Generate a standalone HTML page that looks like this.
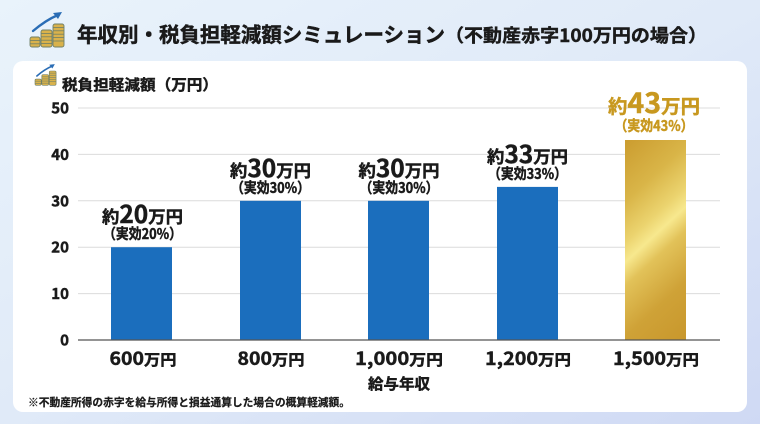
<!DOCTYPE html>
<html><head><meta charset="utf-8">
<style>
html,body{margin:0;padding:0;width:760px;height:424px;overflow:hidden;}
svg{display:block;}
text{font-family:"Noto Sans CJK JP","Liberation Sans",sans-serif;font-weight:700;}
.dk{stroke:#1a1a1a;stroke-width:0.45px;}
.gd{stroke:#c8981f;stroke-width:0.45px;}
</style></head>
<body>
<svg width="760" height="424" viewBox="0 0 760 424" xmlns="http://www.w3.org/2000/svg">
<defs>
<linearGradient id="bg" x1="0" y1="0" x2="1" y2="1">
<stop offset="0" stop-color="#e9f3fb"/>
<stop offset="0.5" stop-color="#e0eaf8"/>
<stop offset="1" stop-color="#cfd9f4"/>
</linearGradient>
<linearGradient id="gold" gradientUnits="userSpaceOnUse" x1="571" y1="143.5" x2="739" y2="326.5">
<stop offset="0" stop-color="#c99a2c"/>
<stop offset="0.15" stop-color="#cc9e31"/>
<stop offset="0.32" stop-color="#d9b548"/>
<stop offset="0.44" stop-color="#ebd36e"/>
<stop offset="0.5" stop-color="#f7e88e"/>
<stop offset="0.57" stop-color="#e2c259"/>
<stop offset="0.72" stop-color="#cfa237"/>
<stop offset="0.9" stop-color="#c8972c"/>
<stop offset="1" stop-color="#c8972c"/>
</linearGradient>
</defs>
<rect width="760" height="424" fill="url(#bg)"/>

<!-- big icon -->
<g>
<g transform="translate(30,37)">
<rect x="0" y="0" width="10" height="10" rx="2" fill="#d9b24b" stroke="#6f7f66" stroke-width="0.9"/>
<line x1="0" y1="3.4" x2="10" y2="3.4" stroke="#6f7f66" stroke-width="0.8"/>
<line x1="0" y1="6.8" x2="10" y2="6.8" stroke="#6f7f66" stroke-width="0.8"/>
</g>
<g transform="translate(41,30)">
<rect x="0" y="0" width="11" height="17" rx="2" fill="#d9b24b" stroke="#6f7f66" stroke-width="0.9"/>
<line x1="0" y1="3.4" x2="11" y2="3.4" stroke="#6f7f66" stroke-width="0.8"/>
<line x1="0" y1="6.8" x2="11" y2="6.8" stroke="#6f7f66" stroke-width="0.8"/>
<line x1="0" y1="10.2" x2="11" y2="10.2" stroke="#6f7f66" stroke-width="0.8"/>
<line x1="0" y1="13.6" x2="11" y2="13.6" stroke="#6f7f66" stroke-width="0.8"/>
</g>
<g transform="translate(53,24)">
<rect x="0" y="0" width="11" height="23" rx="2" fill="#d9b24b" stroke="#6f7f66" stroke-width="0.9"/>
<line x1="0" y1="3.4" x2="11" y2="3.4" stroke="#6f7f66" stroke-width="0.8"/>
<line x1="0" y1="6.8" x2="11" y2="6.8" stroke="#6f7f66" stroke-width="0.8"/>
<line x1="0" y1="10.2" x2="11" y2="10.2" stroke="#6f7f66" stroke-width="0.8"/>
<line x1="0" y1="13.6" x2="11" y2="13.6" stroke="#6f7f66" stroke-width="0.8"/>
<line x1="0" y1="17" x2="11" y2="17" stroke="#6f7f66" stroke-width="0.8"/>
</g>
<path d="M33 31 Q46 20 58 15" fill="none" stroke="#2a6db5" stroke-width="2.4" stroke-linecap="round"/>
<path d="M62 12 L53 13 L58 19 Z" fill="#2a6db5"/>
</g>

<text class="dk" x="77" y="42" font-size="20.5" fill="#1a1a1a" textLength="368" lengthAdjust="spacingAndGlyphs">年収別・税負担軽減額シミュレーション</text>
<text class="dk" x="445" y="42" font-size="18" fill="#1a1a1a" textLength="262" lengthAdjust="spacingAndGlyphs">（不動産赤字100万円の場合）</text>

<!-- card -->
<rect x="13" y="61" width="734" height="351" rx="10" fill="#ffffff"/>

<!-- small icon -->
<g transform="translate(35,71) scale(0.62)">
<g transform="translate(0,13)">
<rect x="0" y="0" width="10" height="10" rx="2" fill="#d9b24b" stroke="#6f7f66" stroke-width="1"/>
<line x1="0" y1="3.4" x2="10" y2="3.4" stroke="#6f7f66" stroke-width="0.9"/>
<line x1="0" y1="6.8" x2="10" y2="6.8" stroke="#6f7f66" stroke-width="0.9"/>
</g>
<g transform="translate(11,6)">
<rect x="0" y="0" width="11" height="17" rx="2" fill="#d9b24b" stroke="#6f7f66" stroke-width="1"/>
<line x1="0" y1="3.4" x2="11" y2="3.4" stroke="#6f7f66" stroke-width="0.9"/>
<line x1="0" y1="6.8" x2="11" y2="6.8" stroke="#6f7f66" stroke-width="0.9"/>
<line x1="0" y1="10.2" x2="11" y2="10.2" stroke="#6f7f66" stroke-width="0.9"/>
<line x1="0" y1="13.6" x2="11" y2="13.6" stroke="#6f7f66" stroke-width="0.9"/>
</g>
<g transform="translate(23,0)">
<rect x="0" y="0" width="11" height="23" rx="2" fill="#d9b24b" stroke="#6f7f66" stroke-width="1"/>
<line x1="0" y1="3.4" x2="11" y2="3.4" stroke="#6f7f66" stroke-width="0.9"/>
<line x1="0" y1="6.8" x2="11" y2="6.8" stroke="#6f7f66" stroke-width="0.9"/>
<line x1="0" y1="10.2" x2="11" y2="10.2" stroke="#6f7f66" stroke-width="0.9"/>
<line x1="0" y1="13.6" x2="11" y2="13.6" stroke="#6f7f66" stroke-width="0.9"/>
<line x1="0" y1="17" x2="11" y2="17" stroke="#6f7f66" stroke-width="0.9"/>
</g>
<path d="M3 8 Q16 -3 28 -8" fill="none" stroke="#2a6db5" stroke-width="2.6" stroke-linecap="round"/>
<path d="M32 -11 L23 -10 L28 -4 Z" fill="#2a6db5"/>
</g>
<text class="dk" x="62" y="90" font-size="15" fill="#1a1a1a" textLength="156" lengthAdjust="spacingAndGlyphs">税負担軽減額（万円）</text>

<!-- grid -->
<g stroke="#dcdcdc" stroke-width="1">
<line x1="78" y1="108" x2="720" y2="108"/>
<line x1="78" y1="154.4" x2="720" y2="154.4"/>
<line x1="78" y1="200.8" x2="720" y2="200.8"/>
<line x1="78" y1="247.2" x2="720" y2="247.2"/>
<line x1="78" y1="293.6" x2="720" y2="293.6"/>
</g>
<g class="dk" font-size="15" fill="#1a1a1a" text-anchor="end">
<text x="69" y="113.5">50</text>
<text x="69" y="159.9">40</text>
<text x="69" y="206.3">30</text>
<text x="69" y="252.7">20</text>
<text x="69" y="299.1">10</text>
<text x="69" y="345.5">0</text>
</g>

<!-- bars -->
<rect x="111" y="247.2" width="61" height="92.8" fill="#1b6ebd"/>
<rect x="240" y="200.8" width="61" height="139.2" fill="#1b6ebd"/>
<rect x="368" y="200.8" width="61" height="139.2" fill="#1b6ebd"/>
<rect x="497" y="186.9" width="61" height="153.1" fill="#1b6ebd"/>
<rect x="625" y="140" width="61" height="200" fill="url(#gold)"/>

<line x1="78" y1="340" x2="720" y2="340" stroke="#555" stroke-width="1.3"/>

<!-- bar labels -->
<g class="dk" fill="#1a1a1a" text-anchor="middle">
<text x="142.5" y="223" textLength="81" lengthAdjust="spacingAndGlyphs"><tspan font-size="17">約</tspan><tspan font-size="24">20</tspan><tspan font-size="17">万円</tspan></text>
<text x="142.5" y="239" font-size="14.5" textLength="79" lengthAdjust="spacingAndGlyphs">（実効20%）</text>
<text x="270.5" y="177" textLength="81" lengthAdjust="spacingAndGlyphs"><tspan font-size="17">約</tspan><tspan font-size="24">30</tspan><tspan font-size="17">万円</tspan></text>
<text x="270.5" y="193" font-size="14.5" textLength="79" lengthAdjust="spacingAndGlyphs">（実効30%）</text>
<text x="399" y="177" textLength="81" lengthAdjust="spacingAndGlyphs"><tspan font-size="17">約</tspan><tspan font-size="24">30</tspan><tspan font-size="17">万円</tspan></text>
<text x="399" y="193" font-size="14.5" textLength="79" lengthAdjust="spacingAndGlyphs">（実効30%）</text>
<text x="527.5" y="163" textLength="81" lengthAdjust="spacingAndGlyphs"><tspan font-size="17">約</tspan><tspan font-size="24">33</tspan><tspan font-size="17">万円</tspan></text>
<text x="527.5" y="179" font-size="14.5" textLength="79" lengthAdjust="spacingAndGlyphs">（実効33%）</text>
</g>
<g class="gd" fill="#c8981f" text-anchor="middle">
<text x="654" y="113" textLength="92" lengthAdjust="spacingAndGlyphs"><tspan font-size="19">約</tspan><tspan font-size="28">43</tspan><tspan font-size="19">万円</tspan></text>
<text x="654" y="131" font-size="14.5" textLength="79" lengthAdjust="spacingAndGlyphs">（実効43%）</text>
</g>

<!-- x labels -->
<g class="dk" fill="#1a1a1a" text-anchor="middle">
<text x="143" y="365" textLength="67" lengthAdjust="spacingAndGlyphs"><tspan font-size="18">600</tspan><tspan font-size="15">万円</tspan></text>
<text x="271" y="365" textLength="67" lengthAdjust="spacingAndGlyphs"><tspan font-size="18">800</tspan><tspan font-size="15">万円</tspan></text>
<text x="399" y="365" textLength="88" lengthAdjust="spacingAndGlyphs"><tspan font-size="18">1,000</tspan><tspan font-size="15">万円</tspan></text>
<text x="528" y="365" textLength="86" lengthAdjust="spacingAndGlyphs"><tspan font-size="18">1,200</tspan><tspan font-size="15">万円</tspan></text>
<text x="656" y="365" textLength="86" lengthAdjust="spacingAndGlyphs"><tspan font-size="18">1,500</tspan><tspan font-size="15">万円</tspan></text>
<text x="399" y="389" font-size="15" textLength="62" lengthAdjust="spacingAndGlyphs">給与年収</text>
</g>

<text class="dk" x="28" y="406" font-size="11" fill="#1a1a1a" style="stroke-width:0.25px" textLength="322" lengthAdjust="spacingAndGlyphs">※不動産所得の赤字を給与所得と損益通算した場合の概算軽減額。</text>
</svg>
</body></html>
